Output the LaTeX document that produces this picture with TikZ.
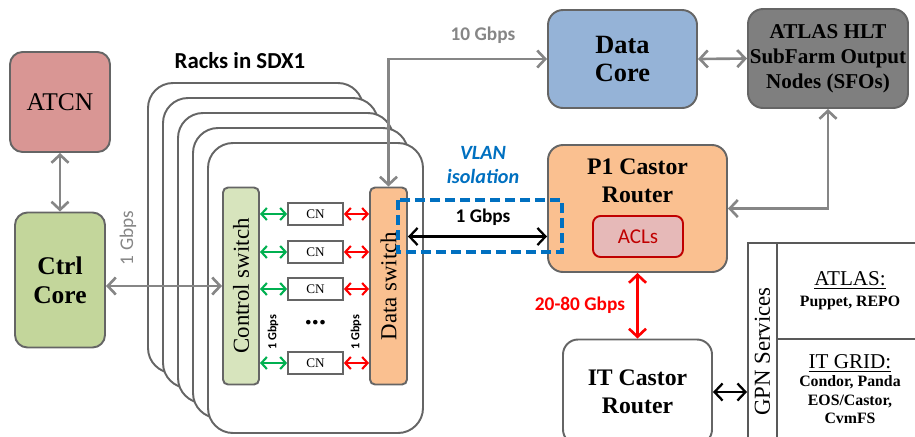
\documentclass[tikz,border=0pt]{standalone}
\usepackage{fontspec}
\setmainfont{Liberation Serif}
\setsansfont{Carlito}
\usetikzlibrary{arrows.meta}

\definecolor{boxgray}{HTML}{656565}
\definecolor{linkgray}{HTML}{868686}
\definecolor{tablegray}{HTML}{595959}
\definecolor{atcnred}{HTML}{D99694}
\definecolor{ctrlgreen}{HTML}{C3D69B}
\definecolor{swgreen}{HTML}{D7E4BD}
\definecolor{coreblue}{HTML}{95B3D7}
\definecolor{routerorange}{HTML}{FAC090}
\definecolor{sfogray}{HTML}{7F7F7F}
\definecolor{aclpink}{HTML}{E6B9B8}
\definecolor{acldark}{HTML}{C00000}
\definecolor{vlanblue}{HTML}{0070C0}
\definecolor{cngreen}{HTML}{00B050}

\newcommand{\fsz}[2]{\fontsize{#1}{#2}\selectfont}

\tikzset{
  box/.style = {draw=boxgray, line width=1.1pt, rounded corners=2.5mm, align=center, inner sep=0pt},
  rack/.style = {draw=boxgray, line width=1.1pt, fill=white, rounded corners=5mm},
  cnbox/.style = {draw=boxgray, line width=1pt, fill=white, minimum width=11mm, minimum height=4.4mm, inner sep=0pt, font=\fsz{7.5}{9}},
  cell/.style = {draw=tablegray, line width=1.1pt, inner sep=0pt, align=center},
  link/.style = {draw=linkgray, line width=1.5pt, <->},
  cnlink/.style = {line width=1.2pt, <->, >={Straight Barb[length=1.1mm,width=2.4mm]}},
  rate/.style = {font=\sffamily\bfseries\fsz{11}{13}},
}

\begin{document}
\begin{tikzpicture}[x=0.2mm, y=-0.2mm, >={Straight Barb[length=1.6mm,width=3.4mm]}]
  \clip (0,0) rectangle (915,436);

  % racks in SDX1
  \foreach \k in {0,...,4}
    \draw[rack] (148+15*\k, 83+15*\k) rectangle ++(215,290);
  \node[font=\sffamily\bfseries\fsz{13}{15}] (racks) at (240,61) {Racks in SDX1};

  \node[box, fill=atcnred, minimum width=20mm, minimum height=20mm, font=\fsz{14.5}{17}] (atcn) at (60,102) {ATCN};
  \node[box, fill=ctrlgreen, minimum width=18mm, minimum height=27mm, font=\bfseries\fsz{14.5}{16.5}] (ctrlcore) at (60,280) {Ctrl\\Core};

  % switches and compute nodes
  \node[box, fill=swgreen, rounded corners=1mm, minimum width=7.2mm, minimum height=39.4mm,
    label={[rotate=90, font=\fsz{13}{15}]center:Control switch}] (ctrlsw) at (241,286) {};
  \node[box, fill=routerorange, rounded corners=1mm, minimum width=7.4mm, minimum height=39.4mm,
    label={[rotate=90, font=\fsz{13}{15}]center:Data switch}] (datasw) at (388.5,286) {};

  \foreach \y [count=\i] in {214,252,289,363} {
    \node[cnbox] (cn\i) at (315.5,\y) {CN};
    \draw[cnlink, cngreen] (ctrlsw.east |- cn\i) -- (cn\i.west);
    \draw[cnlink, red] (cn\i.east) -- (datasw.west |- cn\i);
  }
  \node[font=\bfseries\fsz{16}{18}] (dots) at (315.5,323) {...};
  \node[rotate=90, font=\sffamily\bfseries\fsz{7}{8}] (cgig) at (273,332) {1 Gbps};
  \node[rotate=90, font=\sffamily\bfseries\fsz{7}{8}] (dgig) at (356,332) {1 Gbps};

  \draw[link] (atcn) -- (ctrlcore);
  \draw[link] (ctrlcore.east |- ctrlsw) -- (ctrlsw.west);
  \node[rotate=90, text=linkgray, font=\sffamily\fsz{11}{13}] (ctrlgig) at (128,238) {1 Gbps};

  % cores and routers
  \node[box, fill=coreblue, rounded corners=3mm, minimum width=29.8mm, minimum height=19.6mm, font=\bfseries\fsz{15}{16}] (datacore) at (622.5,59) {Data\\Core};
  \node[box, fill=sfogray, rounded corners=3mm, minimum width=32mm, minimum height=19.8mm, font=\bfseries\fsz{12}{14.2}] (sfo) at (828,58.5) {ATLAS HLT\\SubFarm Output\\Nodes (SFOs)};
  \draw[link] (datacore.east) -- (sfo.west);

  \node[box, fill=routerorange, rounded corners=3mm, minimum width=35.8mm, minimum height=25.4mm] (p1castor) at (637.5,208.5) {};
  \node[font=\bfseries\fsz{13.5}{16}, align=center] (p1text) at (637.5,181) {P1 Castor\\Router};
  \node[box, draw=acldark, fill=aclpink, rounded corners=1.5mm, minimum width=18mm, minimum height=8.2mm, text=acldark, font=\sffamily\fsz{12}{14}] (acls) at (638,236.5) {ACLs};
  \draw[link] (sfo.south) |- (p1castor.east);

  \draw[link] (datasw.north) |- (datacore.west);
  \node[rate, text=linkgray] (tengig) at (483,35) {10 Gbps};

  % vlan isolation
  \node[font=\sffamily\bfseries\itshape\fsz{11.5}{14.2}, text=vlanblue, align=center] (vlan) at (483,165) {VLAN\\isolation};
  \draw[vlanblue, line width=2pt, dash pattern=on 2mm off 1mm] (398,200) rectangle (562,252);
  \draw[<->, line width=1.3pt] (datasw.east |- acls) -- (p1castor.west |- acls);
  \node[rate] (onegig) at (483,217) {1 Gbps};

  \node[box, fill=white, rounded corners=3mm, minimum width=29.8mm, minimum height=21mm, font=\bfseries\fsz{13.5}{16}] (itcastor) at (637.5,392) {IT Castor\\Router};
  \draw[<->, red, line width=1.5pt] (p1castor.south) -- (itcastor.north);
  \node[rate, text=red] (widegig) at (580,305) {20-80 Gbps};

  % GPN services table
  \node[cell, minimum width=5.8mm, minimum height=43.4mm,
    label={[rotate=90, font=\fsz{13}{15}]center:GPN Services}] (gpn) at (762.5,351.5) {};
  \node[cell, minimum width=29.2mm, minimum height=19.2mm, font=\bfseries\fsz{9}{11}] (atlas) at (850,291)
    {{\mdseries\fsz{12}{14}\underline{ATLAS:}}\\[1pt]Puppet, REPO};
  \node[cell, minimum width=29.2mm, minimum height=24.2mm] (itgrid) at (850,399.5) {};
  \node[font=\bfseries\fsz{9}{10.4}, align=center] (gridtext) at (850,389)
    {{\mdseries\fsz{12}{13}\underline{IT GRID:}}\\Condor, Panda\\EOS/Castor,\\CvmFS};
  \draw[<->, line width=1.3pt] (itcastor.east) -- (gpn.west |- itcastor.east);
\end{tikzpicture}
\end{document}
